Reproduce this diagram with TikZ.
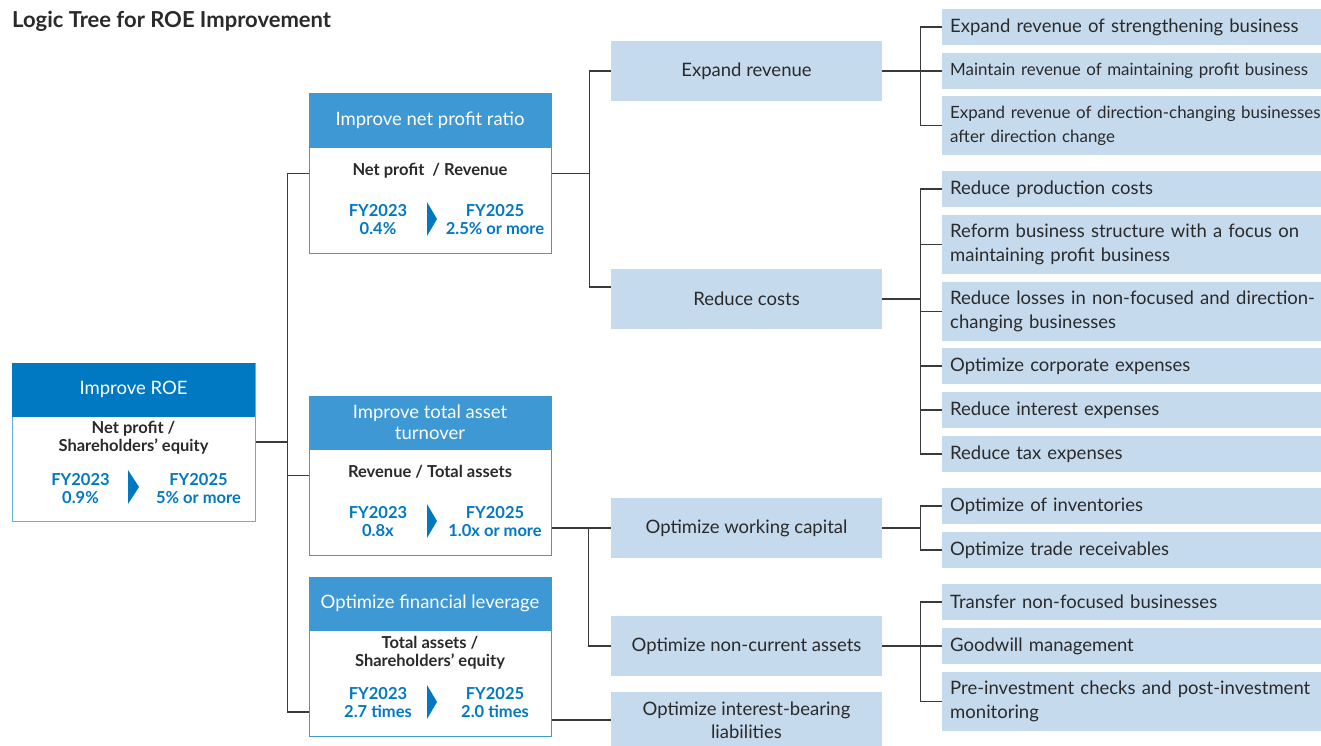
\documentclass[tikz,border=0pt]{standalone}
\usepackage{fontspec}
\setmainfont{Lato}
\usetikzlibrary{positioning,calc}

\definecolor{roeblue}{HTML}{0079C2}
\definecolor{kpiblue}{HTML}{3D98D3}
\definecolor{leverfill}{HTML}{C6DAEE}
\definecolor{inkgray}{HTML}{2A2A2A}
\definecolor{linegray}{HTML}{3A3A3A}

\tikzset{
  kpibox/.style={draw=kpiblue, line width=1pt, fill=white, minimum width=242, minimum height=159, inner sep=0},
  kpihead/.style={fill=kpiblue, text=white, minimum width=242, minimum height=54, inner sep=0, align=center,
    font=\fontsize{18.5}{21}\selectfont},
  ratio/.style={text=inkgray, align=center, font=\bfseries\fontsize{16.5}{18}\selectfont},
  fy/.style={text=roeblue, align=center, font=\bfseries\fontsize{16.5}{18}\selectfont},
  chevron/.style={fill=roeblue},
  lever/.style={fill=leverfill, minimum width=271, minimum height=60, inner sep=0, align=center, text=inkgray,
    font=\fontsize{18.5}{23}\selectfont},
  action/.style={fill=leverfill, anchor=west, minimum width=379, text width=420, minimum height=36, inner xsep=8,
    inner ysep=0, align=left, text=inkgray, font=\fontsize{18.5}{24}\selectfont,
    execute at begin node={\hyphenpenalty=10000\relax}},
  longaction/.style={action, font=\fontsize{16.9}{24}\selectfont},
  branch/.style={draw=linegray, line width=1.1pt},
}

\begin{document}
\begin{tikzpicture}[x=1pt, y=-1pt]
\useasboundingbox (0,0) rectangle (1321,746);

% title
\node[anchor=base west, inner sep=0, text=inkgray, font=\bfseries\fontsize{22}{26}\selectfont] (title) at (12,28) {Logic Tree for ROE Improvement};

% ROE
\node[kpibox, draw=roeblue!60, minimum width=243, minimum height=158] (roe) at (133.5,442) {};
\node[kpihead, fill=roeblue, minimum width=243, anchor=north] (roe-h) at (roe.north) {Improve ROE};
\node[ratio] (roe-r) at (133.5,438) {Net profit /\\Shareholders’ equity};
\node[fy] (roe-a) at (80.5,489) {FY2023\\0.9\%};
\node[fy] (roe-b) at (198.5,489) {FY2025\\5\% or more};
\fill[chevron] (128,470) -- (139,487) -- (128,504) -- cycle;

% net profit ratio
\node[kpibox] (npr) at (430,173.5) {};
\node[kpihead, anchor=north] (npr-h) at (npr.north) {Improve net profit ratio};
\node[ratio] (npr-r) at (430,171) {Net profit~~/ Revenue};
\node[fy] (npr-a) at (378,220) {FY2023\\0.4\%};
\node[fy] (npr-b) at (495,220) {FY2025\\2.5\% or more};
\fill[chevron] (427,202) -- (437,219) -- (427,236) -- cycle;

% total asset turnover
\node[kpibox] (tat) at (430,475.5) {};
\node[kpihead, anchor=north] (tat-h) at (tat.north) {Improve total asset\\turnover};
\node[ratio] (tat-r) at (430,472) {Revenue / Total assets};
\node[fy] (tat-a) at (378,522) {FY2023\\0.8x};
\node[fy] (tat-b) at (495,522) {FY2025\\1.0x or more};
\fill[chevron] (427,504) -- (437,521) -- (427,538) -- cycle;

% financial leverage
\node[kpibox] (lev) at (430,656.5) {};
\node[kpihead, anchor=north] (lev-h) at (lev.north) {Optimize financial leverage};
\node[ratio] (lev-r) at (430,653) {Total assets /\\Shareholders’ equity};
\node[fy] (lev-a) at (378,703) {FY2023\\2.7 times};
\node[fy] (lev-b) at (495,703) {FY2025\\2.0 times};
\fill[chevron] (427,685) -- (437,702) -- (427,719) -- cycle;

% levers
\node[lever] (rev) at (746.5,71) {Expand revenue};
\node[lever] (cost) at (746.5,299) {Reduce costs};
\node[lever] (wcap) at (746.5,528) {Optimize working capital};
\node[lever] (ncur) at (746.5,646) {Optimize non-current assets};
\node[lever, minimum height=56] (ibl) at (746.5,720) {Optimize interest-bearing\\liabilities};

% actions
\node[action] (a1) at (942,27) {Expand revenue of strengthening business};
\node[longaction] (a2) at (942,71) {Maintain revenue of maintaining profit business};
\node[longaction, minimum height=59] (a3) at (942,125.5) {Expand revenue of direction-changing businesses\\after direction change};
\node[action] (c1) at (942,189) {Reduce production costs};
\node[action, minimum height=59] (c2) at (942,244.5) {Reform business structure with a focus on\\maintaining profit business};
\node[action, minimum height=59] (c3) at (942,311.5) {Reduce losses in non-focused and direction-\\changing businesses};
\node[action] (c4) at (942,366) {Optimize corporate expenses};
\node[action] (c5) at (942,410) {Reduce interest expenses};
\node[action] (c6) at (942,454) {Reduce tax expenses};
\node[action] (w1) at (942,506) {Optimize of inventories};
\node[action] (w2) at (942,550) {Optimize trade receivables};
\node[action] (n1) at (942,602) {Transfer non-focused businesses};
\node[action] (n2) at (942,646) {Goodwill management};
\node[action, minimum height=59] (n3) at (942,701.5) {Pre-investment checks and post-investment\\monitoring};

% connectors: ROE to KPIs
\draw[branch] (roe.east) -- ++(32,0) coordinate (roe-j);
\draw[branch] (npr.west) -| (roe-j);
\draw[branch] (tat.west) -| (roe-j);
\draw[branch] ([yshift=-55.5pt]lev.west) -| (roe-j);

% KPIs to levers
\draw[branch] (npr.east) -- ++(38,0) coordinate (npr-j);
\draw[branch] (rev.west) -| (npr-j);
\draw[branch] ([yshift=12pt]cost.west) -| (npr-j);
\draw[branch] (tat.east |- wcap.west) -- (wcap.west);
\coordinate (tat-j) at ($(wcap.west)+(-22,0)$);
\draw[branch] (ncur.west) -| (tat-j);
\draw[branch] (lev.east |- ibl.west) -- (ibl.west);

% levers to actions
\draw[branch] (rev.east) -- ++(38,0) coordinate (rev-j);
\foreach \n in {a1,a2,a3} \draw[branch] (\n.west) -| (rev-j);
\draw[branch] (cost.east) -- ++(38,0) coordinate (cost-j);
\foreach \n in {c1,c2,c3,c4,c5,c6} \draw[branch] (\n.west) -| (cost-j);
\draw[branch] (wcap.east) -- ++(38,0) coordinate (wcap-j);
\foreach \n in {w1,w2} \draw[branch] (\n.west) -| (wcap-j);
\draw[branch] (ncur.east) -- ++(38,0) coordinate (ncur-j);
\foreach \n in {n1,n2,n3} \draw[branch] (\n.west) -| (ncur-j);
\end{tikzpicture}
\end{document}
